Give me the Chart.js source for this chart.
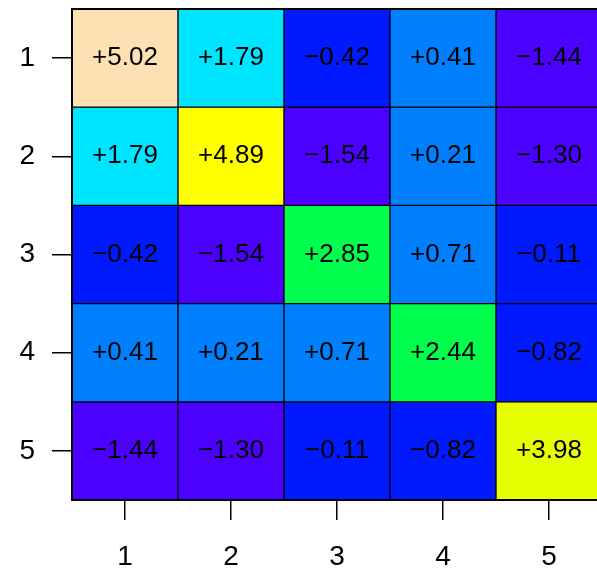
<!DOCTYPE html>
<html>
<head>
<meta charset="utf-8">
<script src="https://cdn.jsdelivr.net/npm/chart.js@4"></script>
<style>
  html, body { margin: 0; padding: 0; background: #fff; overflow: hidden; }
  #wrap { width: 620px; height: 574px; }
</style>
</head>
<body>
<div id="wrap"><canvas id="myChart"></canvas></div>
<script>
const colLabels = ["1", "2", "3", "4", "5"];
const rowLabels = [1, 2, 3, 4, 5];
const row1 = [5.02, 1.79, -0.42, 0.41, -1.44];
const row2 = [1.79, 4.89, -1.54, 0.21, -1.30];
const row3 = [-0.42, -1.54, 2.85, 0.71, -0.11];
const row4 = [0.41, 0.21, 0.71, 2.44, -0.82];
const row5 = [-1.44, -1.30, -0.11, -0.82, 3.98];
const rows = [row1, row2, row3, row4, row5];

// colour bins (topo-like)
const breaks = [-1, 0, 1, 2, 3, 4, 5];
const palette = ["#4C00FF", "#0019FF", "#0080FF", "#00E5FF", "#00FF4D", "#E6FF00", "#FFFF00", "#FFE0B3"];

function colorFor(v) {
  let i = 0;
  while (i < breaks.length && v >= breaks[i]) i++;
  return palette[i];
}

function fmt(v) {
  return (v < 0 ? "\u2212" : "+") + Math.abs(v).toFixed(2);
}

const datasets = rows.map((vals, r) => ({
  label: "row " + rowLabels[r],
  data: vals.map(() => [rowLabels[r] - 0.5, rowLabels[r] + 0.5]),
  cellValues: vals,
  backgroundColor: vals.map(colorFor),
  borderColor: "#000",
  borderWidth: 1,
  borderSkipped: false,
  barPercentage: 1,
  categoryPercentage: 1,
  grouped: false
}));

const cellText = {
  id: "cellText",
  afterDatasetsDraw(chart) {
    const c = chart.ctx;
    const a = chart.chartArea;
    c.save();
    // outer frame
    c.strokeStyle = "#000";
    c.lineWidth = 2;
    c.strokeRect(a.left, a.top, a.right - a.left, a.bottom - a.top);
    c.fillStyle = "#000";
    c.font = "26px 'Liberation Sans', Arial, sans-serif";
    c.textAlign = "center";
    c.textBaseline = "middle";
    chart.data.datasets.forEach((ds, i) => {
      chart.getDatasetMeta(i).data.forEach((bar, j) => {
        c.fillText(fmt(ds.cellValues[j]), bar.x, (bar.y + bar.base) / 2);
      });
    });
    c.restore();
  }
};

const ctx = document.getElementById("myChart");

new Chart(ctx, {
  type: "bar",
  data: { labels: colLabels, datasets: datasets },
  options: {
    responsive: true,
    maintainAspectRatio: false,
    animation: false,
    layout: { padding: { top: 9, right: 18, left: 0, bottom: 0 } },
    plugins: {
      legend: { display: false },
      tooltip: { enabled: false }
    },
    scales: {
      x: {
        offset: true,
        border: { display: false },
        grid: { drawOnChartArea: false, drawTicks: true, tickLength: 20, color: "#000", lineWidth: 1.5, offset: false },
        ticks: {
          color: "#000",
          padding: 20,
          maxRotation: 0,
          font: { family: "'Liberation Sans', Arial, sans-serif", size: 28 }
        },
        afterFit(scale) {
          scale.height = 74;
          scale.paddingLeft = 0;
          scale.paddingRight = 0;
        }
      },
      y: {
        reverse: true,
        min: 0.5,
        max: 5.5,
        border: { display: false },
        grid: { drawOnChartArea: false, drawTicks: true, tickLength: 20, color: "#000", lineWidth: 1.5 },
        ticks: {
          color: "#000",
          padding: 17,
          font: { family: "'Liberation Sans', Arial, sans-serif", size: 28 }
        },
        afterBuildTicks(scale) {
          scale.ticks = rowLabels.map(v => ({ value: v }));
        },
        afterFit(scale) {
          scale.width = 72;
          scale.paddingTop = 0;
          scale.paddingBottom = 0;
        }
      }
    }
  },
  plugins: [cellText]
});
</script>
</body>
</html>
